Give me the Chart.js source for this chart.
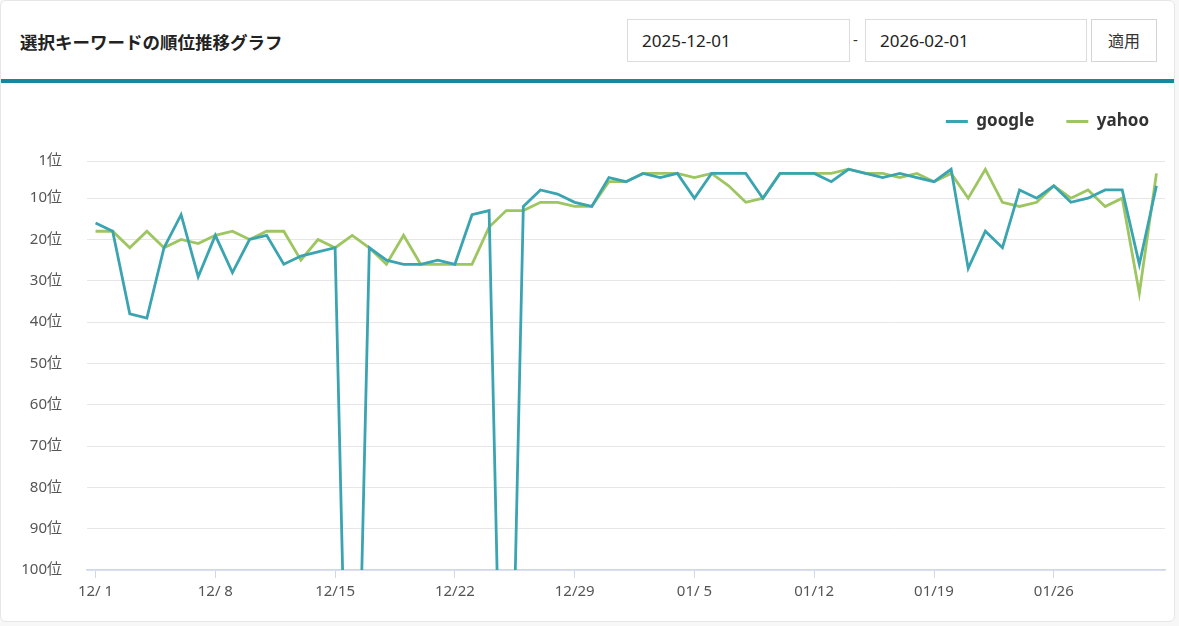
<!DOCTYPE html>
<html lang="ja">
<head>
<meta charset="utf-8">
<title>選択キーワードの順位推移グラフ</title>
<script src="https://cdn.jsdelivr.net/npm/chart.js@4.4.1/dist/chart.umd.min.js"></script>
<style>
  html, body { margin: 0; padding: 0; background: #f7f7f7; }
  body { width: 1179px; height: 626px; overflow: hidden; font-family: "Noto Sans", "Noto Sans CJK JP", sans-serif; }
  .card { position: absolute; left: 0; top: 0; width: 1175px; height: 622px; background: #fff;
          border: 1px solid #e6e6e6; border-radius: 6px; box-sizing: border-box; }
  .head { position: absolute; left: 0; top: 0; right: 0; height: 78px; }
  .head h2 { position: absolute; left: 19px; top: 28px; margin: 0; font-size: 17.5px; font-weight: 700; color: #222;
             font-family: "Noto Sans CJK JP", sans-serif; line-height: 26px; }
  .date { position: absolute; top: 18px; height: 43px; border: 1px solid #dcdcdc; box-sizing: border-box;
          font-size: 17px; color: #222; line-height: 41px; padding-left: 14px; }
  .dash { position: absolute; left: 852px; top: 28px; font-size: 15px; color: #333; }
  .btn { position: absolute; left: 1090px; top: 18px; width: 66px; height: 43px; border: 1px solid #d4d4d4;
         box-sizing: border-box; font-size: 16px; color: #333; text-align: center; line-height: 41px;
         font-family: "Noto Sans CJK JP", sans-serif; background: #fff; }
  .bar { position: absolute; left: 0; right: 0; top: 78px; height: 4px; background: #138a9b; }
  .chart-box { position: absolute; left: 0; top: 80px; width: 1174px; height: 538px; }
</style>
</head>
<body>
<div class="card">
  <div class="head">
    <h2>選択キーワードの順位推移グラフ</h2>
    <div class="date" style="left:626px;width:223px">2025-12-01</div>
    <span class="dash">-</span>
    <div class="date" style="left:864px;width:222px">2026-02-01</div>
    <div class="btn">適用</div>
  </div>
  <div class="bar"></div>
  <div class="chart-box"><canvas id="rank"></canvas></div>
</div>
<script>
// daily labels 12/1 – 2/1, only every 7th is shown on the axis
const days = [
  "12/ 1","12/ 2","12/ 3","12/ 4","12/ 5","12/ 6","12/ 7","12/ 8","12/ 9","12/10",
  "12/11","12/12","12/13","12/14","12/15","12/16","12/17","12/18","12/19","12/20",
  "12/21","12/22","12/23","12/24","12/25","12/26","12/27","12/28","12/29","12/30",
  "12/31","01/ 1","01/ 2","01/ 3","01/ 4","01/ 5","01/ 6","01/ 7","01/ 8","01/ 9",
  "01/10","01/11","01/12","01/13","01/14","01/15","01/16","01/17","01/18","01/19",
  "01/20","01/21","01/22","01/23","01/24","01/25","01/26","01/27","01/28","01/29",
  "01/30","01/31","02/ 1"
];
// rank per day (200 = out of range, drawn past the bottom)
const google = [
  16, 18, 38, 39, 22, 14, 29, 19, 28, 20,
  19, 26, 24, 23, 22, 200, 22, 25, 26, 26,
  25, 26, 14, 13, 200, 12, 8, 9, 11, 12,
  5, 6, 4, 5, 4, 10, 4, 4, 4, 10,
  4, 4, 4, 6, 3, 4, 5, 4, 5, 6,
  3, 27, 18, 22, 8, 10, 7, 11, 10, 8,
  8, 26, 7
];
const yahoo = [
  18, 18, 22, 18, 22, 20, 21, 19, 18, 20,
  18, 18, 25, 20, 22, 19, 22, 26, 19, 26,
  26, 26, 26, 17, 13, 13, 11, 11, 12, 12,
  6, 6, 4, 4, 4, 5, 4, 7, 11, 10,
  4, 4, 4, 4, 3, 4, 4, 5, 4, 6,
  4, 10, 3, 11, 12, 11, 7, 10, 8, 12,
  10, 33, 4
];
const rankTicks = [1, 10, 20, 30, 40, 50, 60, 70, 80, 90, 100];

const TEAL = "#3ba4b1", GREEN = "#9dc660";
const FONT = "'Noto Sans', 'Noto Sans CJK JP', sans-serif";

// legend: fixed height above the plot, nudged toward the right edge
const legendSpace = {
  id: "legendSpace",
  beforeInit(chart) {
    const fit = chart.legend.fit;
    chart.legend.fit = function () { fit.call(this); this.height = 80; };
  },
  afterLayout(chart) {
    chart.legend.left += 16;
    chart.legend.right += 16;
  },
};

new Chart(document.getElementById("rank"), {
  type: "line",
  data: {
    labels: days,
    datasets: [
      { label: "google", data: google, borderColor: TEAL, backgroundColor: TEAL, borderWidth: 2.8, pointRadius: 0, tension: 0 },
      { label: "yahoo", data: yahoo, borderColor: GREEN, backgroundColor: GREEN, borderWidth: 2.8, pointRadius: 0, tension: 0 },
    ],
  },
  options: {
    responsive: true, maintainAspectRatio: false, animation: false,
    layout: { padding: { top: 0, right: 10, bottom: 13, left: 0 } },
    plugins: {
      tooltip: { enabled: false },
      legend: {
        position: "top", align: "end",
        labels: {
          boxWidth: 22, boxHeight: 3, padding: 32, color: "#333", font: { family: FONT, size: 17, weight: "bold" },
          // thin line swatches instead of stroked boxes
          generateLabels: (chart) =>
            Chart.defaults.plugins.legend.labels.generateLabels(chart).map((l) => ({ ...l, lineWidth: 0 })),
        },
      },
    },
    scales: {
      x: {
        offset: true,
        border: { color: "#cfd7ec", width: 1.5 },
        grid: {
          drawOnChartArea: false, tickLength: 8,
          color: (ctx) => (ctx.index % 7 === 0 ? "#cfd7ec" : "transparent"),
        },
        ticks: {
          autoSkip: false, maxRotation: 0, padding: 5, color: "#555",
          font: { family: FONT, size: 15 },
          callback: (v, i) => (i % 7 === 0 ? days[i] : ""),
        },
      },
      y: {
        reverse: true, min: 1, max: 100,
        border: { display: false },
        grid: { color: "#e6e6e6", drawTicks: false },
        afterBuildTicks: (axis) => { axis.ticks = rankTicks.map((v) => ({ value: v })); },
        afterFit: (axis) => { axis.width = 86; },
        ticks: { padding: 25, color: "#555", font: { family: FONT, size: 15 }, callback: (v) => v + "位" },
      },
    },
  },
  plugins: [legendSpace],
});
</script>
</body>
</html>
